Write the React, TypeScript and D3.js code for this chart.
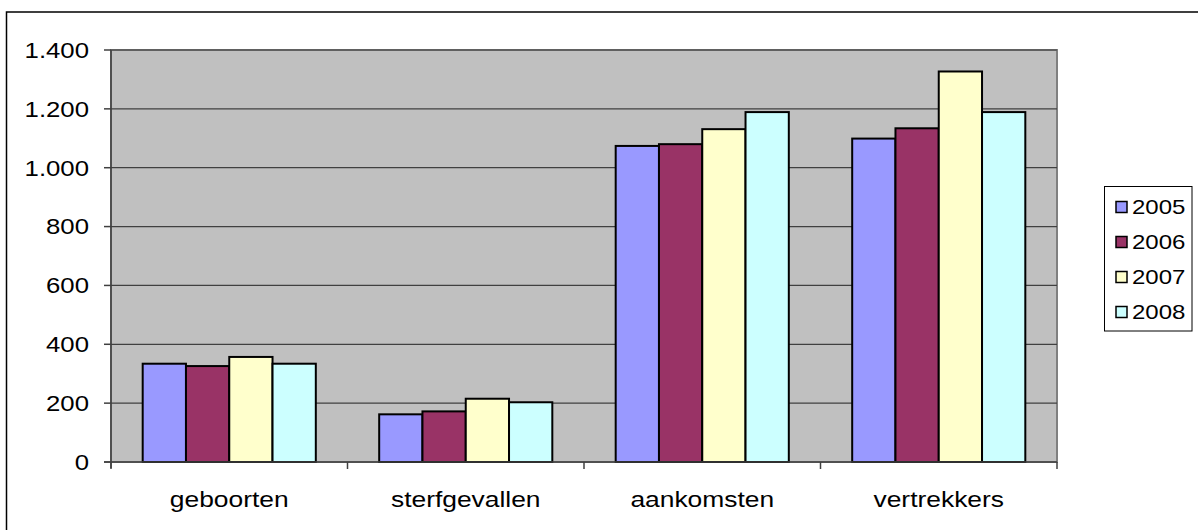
import React from "react";
import * as d3 from "d3";

const categories = ["geboorten", "sterfgevallen", "aankomsten", "vertrekkers"];
const years = ["2005", "2006", "2007", "2008"];
const v2005 = [334, 162, 1074, 1099];
const v2006 = [326, 172, 1080, 1134];
const v2007 = [357, 215, 1131, 1327];
const v2008 = [334, 203, 1189, 1189];
const seriesValues = [v2005, v2006, v2007, v2008];
const colors = ["#9999FF", "#993366", "#FFFFCC", "#CCFFFF"];
const yTicks = [0, 200, 400, 600, 800, 1000, 1200, 1400];

const W = 1198;
const H = 530;
const plot = { left: 111, right: 1057, top: 50, bottom: 462 };

const fmt = (v: number) => d3.format(",")(v).replace(/,/g, ".");

export default function App() {
  const y = d3.scaleLinear().domain([0, 1400]).range([plot.bottom, plot.top]);
  const x0 = d3.scaleBand<string>().domain(categories).range([plot.left, plot.right]).paddingInner(0).paddingOuter(0);
  const bw = x0.bandwidth();
  const groupW = bw * 0.732;
  const x1 = d3.scaleBand<string>().domain(years).range([(bw - groupW) / 2, (bw + groupW) / 2]).padding(0);
  const font = "'Liberation Sans', Arial, sans-serif";
  const boundaries = [...categories.map((c) => x0(c)!), plot.right];

  return (
    <div style={{ position: "absolute", left: 0, top: 0 }}>
      <svg width={W} height={H} style={{ display: "block", background: "#fff" }}>
        <rect x={6.5} y={12} width={1300} height={600} fill="#fff" stroke="#000" strokeWidth={1.5} />
        <rect x={plot.left} y={plot.top} width={plot.right - plot.left} height={plot.bottom - plot.top} fill="#C0C0C0" stroke="#808080" strokeWidth={2} />
        {yTicks.slice(1).map((t) => (
          <line key={t} x1={plot.left} x2={plot.right} y1={y(t)} y2={y(t)} stroke="#404040" strokeWidth={1.2} />
        ))}
        {seriesValues.map((vals, si) =>
          vals.map((v, ci) => (
            <rect
              key={`${si}-${ci}`}
              x={x0(categories[ci])! + x1(years[si])!}
              y={y(v)}
              width={x1.bandwidth()}
              height={y(0) - y(v)}
              fill={colors[si]}
              stroke="#000"
              strokeWidth={2}
            />
          ))
        )}
        <line x1={plot.left} x2={plot.left} y1={plot.top} y2={plot.bottom + 6} stroke="#404040" strokeWidth={1.5} />
        <line x1={plot.left - 7} x2={plot.right} y1={plot.bottom} y2={plot.bottom} stroke="#404040" strokeWidth={1.5} />
        {yTicks.map((t) => (
          <g key={t}>
            <line x1={plot.left - 7} x2={plot.left} y1={y(t)} y2={y(t)} stroke="#404040" strokeWidth={1.5} />
            <text x={89} y={y(t)} dy="0.36em" textAnchor="end" fontFamily={font} fontSize={22} fill="#000" transform={`translate(89,0) scale(1.17,1) translate(-89,0)`}>
              {fmt(t)}
            </text>
          </g>
        ))}
        {boundaries.map((b, i) => (
          <line key={i} x1={b} x2={b} y1={plot.bottom} y2={plot.bottom + 7} stroke="#404040" strokeWidth={1.5} />
        ))}
        {categories.map((c) => {
          const cx = x0(c)! + bw / 2;
          return (
            <text key={c} x={cx} y={507} textAnchor="middle" fontFamily={font} fontSize={22} fill="#000" transform={`translate(${cx},0) scale(1.2,1) translate(${-cx},0)`}>
              {c}
            </text>
          );
        })}
        <rect x={1104.5} y={186.5} width={87.5} height={144.5} fill="#fff" stroke="#000" strokeWidth={1} />
        {years.map((yr, i) => {
          const cy = 207 + i * 35;
          return (
            <g key={yr}>
              <rect x={1116} y={cy - 5.5} width={11} height={11} fill={colors[i]} stroke="#000" strokeWidth={1.5} />
              <text x={1132} y={cy} dy="0.36em" fontFamily={font} fontSize={20} fill="#000" transform={`translate(1132,0) scale(1.2,1) translate(-1132,0)`}>
                {yr}
              </text>
            </g>
          );
        })}
      </svg>
    </div>
  );
}
